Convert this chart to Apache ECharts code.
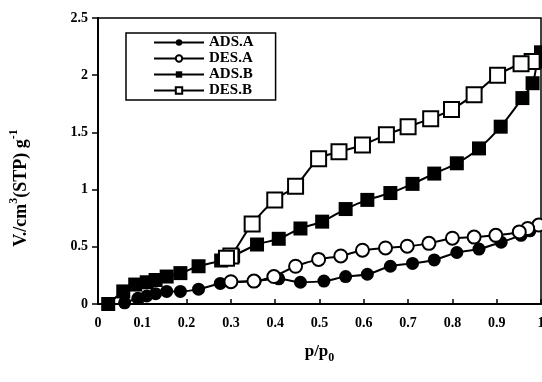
<!DOCTYPE html>
<html>
<head>
<meta charset="utf-8">
<script src="https://cdn.jsdelivr.net/npm/echarts@6/dist/echarts.min.js"></script>
<style>html,body{margin:0;padding:0;background:#fff}#c{width:542px;height:382px}</style>
</head>
<body>
<div id="c"></div>
<script>
var seriesNames = ['ADS.A', 'DES.A', 'ADS.B', 'DES.B'];
var xTicks = ['0','0.1','0.2','0.3','0.4','0.5','0.6','0.7','0.8','0.9','1'];
var yTicks = ['0','0.5','1','1.5','2','2.5'];

var adsA = [[0.06,0.01],[0.09,0.05],[0.11,0.07],[0.13,0.09],[0.155,0.11],[0.186,0.11],[0.227,0.13],[0.276,0.18],[0.30,0.19],[0.355,0.2],[0.408,0.22],[0.457,0.19],[0.51,0.2],[0.559,0.24],[0.608,0.26],[0.66,0.33],[0.71,0.355],[0.759,0.385],[0.81,0.45],[0.86,0.48],[0.91,0.54],[0.955,0.6],[0.975,0.64],[0.993,0.69]];
var desA = [[0.995,0.69],[0.97,0.66],[0.951,0.63],[0.898,0.60],[0.849,0.585],[0.80,0.575],[0.747,0.53],[0.698,0.505],[0.649,0.49],[0.597,0.47],[0.548,0.42],[0.498,0.39],[0.446,0.33],[0.397,0.24],[0.352,0.2],[0.30,0.195]];
var adsB = [[0.023,0],[0.057,0.11],[0.084,0.17],[0.11,0.19],[0.13,0.21],[0.155,0.24],[0.186,0.27],[0.227,0.33],[0.278,0.38],[0.305,0.42],[0.359,0.52],[0.408,0.57],[0.457,0.66],[0.506,0.72],[0.559,0.83],[0.608,0.91],[0.66,0.97],[0.71,1.05],[0.759,1.14],[0.81,1.23],[0.86,1.36],[0.909,1.55],[0.958,1.8],[0.981,1.93],[0.992,2.12],[1.0,2.2]];
var desB = [[0.98,2.12],[0.955,2.10],[0.902,2.0],[0.849,1.83],[0.798,1.70],[0.751,1.62],[0.70,1.55],[0.651,1.48],[0.597,1.39],[0.544,1.33],[0.498,1.27],[0.446,1.03],[0.399,0.91],[0.348,0.70],[0.30,0.42],[0.29,0.40]];

var FONT = '"Liberation Serif", "Times New Roman", serif';
var chart = echarts.init(document.getElementById('c'), null, {renderer: 'canvas'});

function mk(name, data, symbol, size) {
  return {
    name: name, type: 'line', data: data, symbol: symbol, symbolSize: size,
    smooth: 0.3, showAllSymbol: true,
    lineStyle: {color: '#000', width: 2},
    itemStyle: {color: '#000', borderColor: '#000', borderWidth: symbol.indexOf('empty') === 0 ? 1.5 : 0},
    emphasis: {disabled: true}, animation: false
  };
}

chart.setOption({
  animation: false,
  grid: {left: 98, right: 1, top: 18, bottom: 78, outerBoundsMode: 'none', containLabel: false,
    show: true, borderColor: '#000', borderWidth: 1.5, backgroundColor: 'transparent'},
  legend: {
    orient: 'vertical', left: 126, top: 33,
    data: seriesNames,
    itemWidth: 50, itemHeight: 8, itemGap: 1,
    padding: [2, 22, 2, 27],
    borderColor: '#000', borderWidth: 1.5,
    textStyle: {fontFamily: FONT, fontWeight: 'bold', fontSize: 15, color: '#000', lineHeight: 15},
    selectedMode: false
  },
  xAxis: {
    type: 'value', min: 0, max: 1, interval: 0.1,
    axisLine: {show: true, lineStyle: {color: '#000', width: 2}},
    axisTick: {show: true, inside: true, length: 5, lineStyle: {color: '#000', width: 1.5}},
    splitLine: {show: false},
    axisLabel: {margin: 12, fontFamily: FONT, fontWeight: 'bold', fontSize: 14, color: '#000',
      formatter: function (v) { return xTicks[Math.round(v * 10)]; }},
    name: '{a|p/p}{s|0}', nameLocation: 'middle', nameGap: 38,
    nameTextStyle: {rich: {
      a: {fontFamily: FONT, fontWeight: 'bold', fontSize: 17, color: '#000', lineHeight: 20, verticalAlign: 'middle'},
      s: {fontFamily: FONT, fontWeight: 'bold', fontSize: 12, color: '#000', lineHeight: 20, verticalAlign: 'bottom', padding: [0,0,-2,0]}
    }}
  },
  yAxis: {
    type: 'value', min: 0, max: 2.5, interval: 0.5,
    axisLine: {show: true, lineStyle: {color: '#000', width: 2}},
    axisTick: {show: true, inside: false, length: 6, lineStyle: {color: '#000', width: 1.5}},
    splitLine: {show: false},
    axisLabel: {margin: 10, fontFamily: FONT, fontWeight: 'bold', fontSize: 14, color: '#000',
      formatter: function (v) { return yTicks[Math.round(v * 2)]; }},
    name: '{a|V./cm}{s|3}{a|(STP) g}{s|-1}', nameLocation: 'middle', nameGap: 68,
    nameTextStyle: {padding: [0, 54, 0, 0], rich: {
      a: {fontFamily: FONT, fontWeight: 'bold', fontSize: 18, color: '#000', lineHeight: 22, verticalAlign: 'bottom'},
      s: {fontFamily: FONT, fontWeight: 'bold', fontSize: 12, color: '#000', lineHeight: 22, verticalAlign: 'top'}
    }}
  },
  series: [
    mk('ADS.A', adsA, 'circle', 13),
    mk('DES.A', desA, 'emptyCircle', 13),
    mk('ADS.B', adsB, 'rect', 14),
    mk('DES.B', desB, 'emptyRect', 15)
  ]
});
</script>
</body>
</html>
